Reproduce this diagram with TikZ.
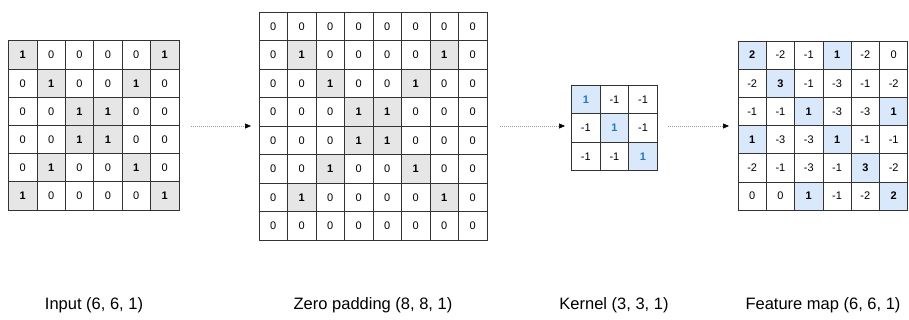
\documentclass[tikz,border=0pt]{standalone}
\usepackage{fontspec}
\setmainfont{Liberation Sans}
\usetikzlibrary{arrows.meta}
\definecolor{gridline}{HTML}{333333}
\definecolor{grayfill}{HTML}{E6E6E6}
\definecolor{bluefill}{HTML}{DAE8FC}
\definecolor{kernelblue}{HTML}{1F78C8}
\definecolor{flowgray}{HTML}{9A9A9A}
\tikzset{
  cell/.style={draw=gridline, line width=0.8pt, fill=white, inner sep=0pt,
    minimum width=#1, minimum height=#1, font=\fontsize{11}{12}\selectfont},
  graycell/.style={fill=grayfill, font=\fontsize{11}{12}\selectfont\bfseries},
  bluecell/.style={fill=bluefill, font=\fontsize{11}{12}\selectfont\bfseries},
  kerncell/.style={fill=bluefill, text=kernelblue, font=\fontsize{11}{12}\selectfont\bfseries},
  onegray/.code={\ifnum#1=1 \pgfkeysalso{/tikz/graycell}\fi},
  onekern/.code={\ifnum#1=1 \pgfkeysalso{/tikz/kerncell}\fi},
  posblue/.code={\ifnum#1>0 \pgfkeysalso{/tikz/bluecell}\fi},
  flow/.style={draw=flowgray, line width=0.6pt, dash pattern=on 1pt off 1pt,
    -{Triangle[length=6pt,width=5pt,color=black]}},
  caption/.style={font=\fontsize{16.5}{18}\selectfont, inner sep=0pt}
}
\begin{document}
\begin{tikzpicture}[x=1pt,y=-1pt]
\useasboundingbox (0,0) rectangle (909,320);

% input image 6x6
\foreach \row [count=\r] in {{1,0,0,0,0,1},{0,1,0,0,1,0},{0,0,1,1,0,0},
                             {0,0,1,1,0,0},{0,1,0,0,1,0},{1,0,0,0,0,1}}{
  \foreach \v [count=\c] in \row{
    \node[cell=28.4, onegray=\v] (in-\r-\c) at (8.5+28.4*\c-14.2, 41+28.2*\r-14.1) {\v};
  }
}

% zero-padded image 8x8
\foreach \row [count=\r] in {{0,0,0,0,0,0,0,0},{0,1,0,0,0,0,1,0},{0,0,1,0,0,1,0,0},
                             {0,0,0,1,1,0,0,0},{0,0,0,1,1,0,0,0},{0,0,1,0,0,1,0,0},
                             {0,1,0,0,0,0,1,0},{0,0,0,0,0,0,0,0}}{
  \foreach \v [count=\c] in \row{
    \node[cell=28.5, onegray=\v] (pad-\r-\c) at (259+28.5*\c-14.25, 12+28.5*\r-14.25) {\v};
  }
}

% kernel 3x3
\foreach \row [count=\r] in {{1,-1,-1},{-1,1,-1},{-1,-1,1}}{
  \foreach \v [count=\c] in \row{
    \node[cell=28.6, onekern=\v] (ker-\r-\c) at (571.5+28.6*\c-14.3, 85+28.6*\r-14.3) {\v};
  }
}

% feature map 6x6
\foreach \row [count=\r] in {{2,-2,-1,1,-2,0},{-2,3,-1,-3,-1,-2},{-1,-1,1,-3,-3,1},
                             {1,-3,-3,1,-1,-1},{-2,-1,-3,-1,3,-2},{0,0,1,-1,-2,2}}{
  \foreach \v [count=\c] in \row{
    \node[cell=28.3, posblue=\v] (fm-\r-\c) at (738+28.3*\c-14.15, 41+28.2*\r-14.1) {\v};
  }
}

% flow arrows between the stages
\coordinate (a1s) at (191,126);
\coordinate (a1e) at (251,126);
\coordinate (a2s) at (500,126);
\coordinate (a2e) at (565,126);
\coordinate (a3s) at (668,126);
\coordinate (a3e) at (729,126);
\draw[flow] (a1s) -- (a1e);
\draw[flow] (a2s) -- (a2e);
\draw[flow] (a3s) -- (a3e);

% captions
\node[caption] (cap-in)  at (94,305)  {Input (6, 6, 1)};
\node[caption] (cap-pad) at (373,305) {Zero padding (8, 8, 1)};
\node[caption] (cap-ker) at (614,305) {Kernel (3, 3, 1)};
\node[caption] (cap-fm)  at (823,305) {Feature map (6, 6, 1)};
\end{tikzpicture}
\end{document}
